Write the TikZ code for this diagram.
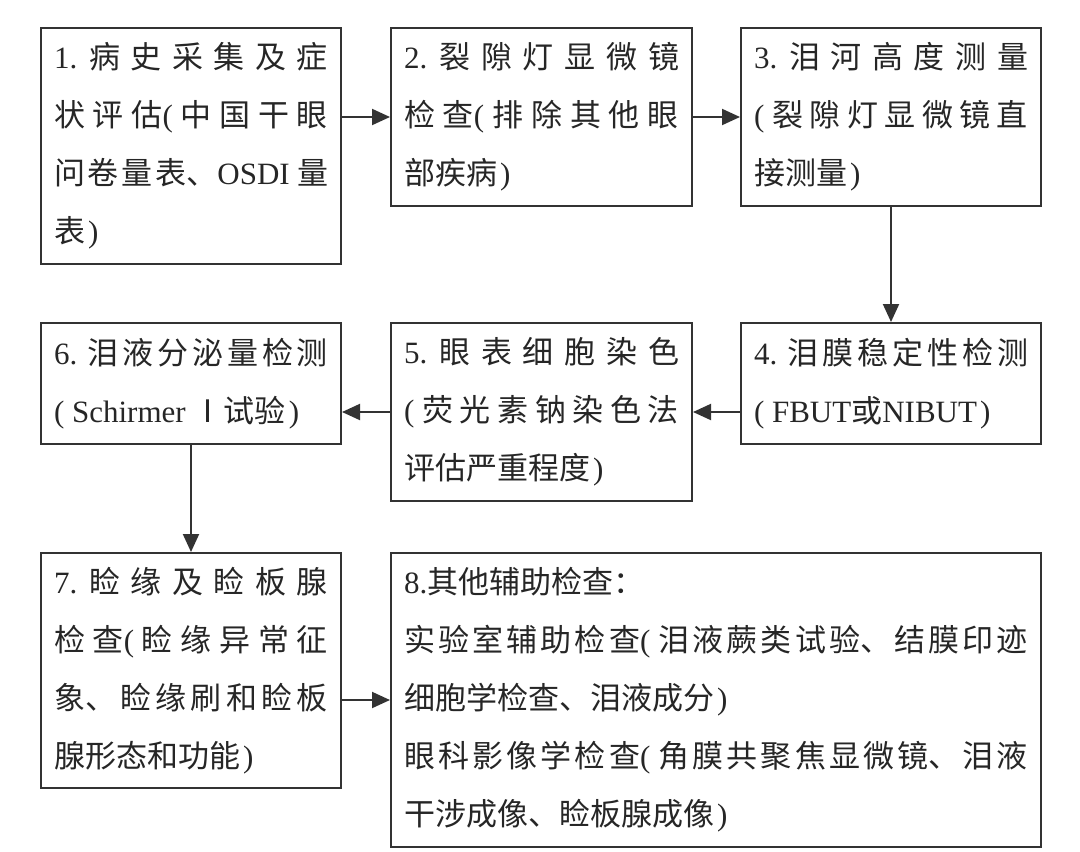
\documentclass[tikz,border=0pt]{standalone}
\usepackage{fontspec}
\setmainfont{Noto Sans CJK SC}
\newfontfamily\enfont{Liberation Serif}
\newcommand{\enf}[1]{{\enfont #1}}
\newcommand{\lp}{{\enfont(}\kern0.25em}
\newcommand{\rp}{\kern0.1em{\enfont)}}
\usepackage{tikz}
\tikzset{>=latex}
\usetikzlibrary{arrows.meta}
\XeTeXlinebreaklocale "zh"
\XeTeXlinebreakskip=0pt plus 20pt
\tolerance=10000
\hbadness=10000

\tikzset{
  stepbox/.style={draw=black!80, line width=1pt, anchor=north west, align=justify,
    text width=#1, inner xsep=6.5pt, inner ysep=0pt, text=black!85,
    font=\fontsize{15.5pt}{29pt}\selectfont},
  flow/.style={-{Triangle[length=9pt,width=8pt]}, line width=1pt, black!80}
}

\begin{document}
\begin{tikzpicture}[x=0.5pt, y=-0.5pt]
 \useasboundingbox (0,0) rectangle (1080,851);

 % Top row
 \node[stepbox=137pt, minimum height=118pt] (hist) at (40,27)
   {\enf{1.} 病史采集及症\linebreak 状评估\lp 中国干眼\linebreak 问卷量表、\enf{OSDI} 量\linebreak 表\rp};
 \node[stepbox=137.5pt, minimum height=89pt] (slit) at (390,27)
   {\enf{2.} 裂隙灯显微镜\linebreak 检查\lp 排除其他眼\linebreak 部疾病\rp};
 \node[stepbox=137pt, minimum height=89pt] (meniscus) at (740,27)
   {\enf{3.} 泪河高度测量\linebreak \lp 裂隙灯显微镜直\linebreak 接测量\rp};

 % Middle row
 \node[stepbox=137pt, minimum height=60.5pt] (tbut) at (740,322)
   {\enf{4.} 泪膜稳定性检测\linebreak \lp\enf{FBUT}或\enf{NIBUT}\rp};
 \node[stepbox=137.5pt, minimum height=89pt] (stain) at (390,322)
   {\enf{5.} 眼表细胞染色\linebreak \lp 荧光素钠染色法\linebreak 评估严重程度\rp};
 \node[stepbox=137pt, minimum height=60.5pt] (schirmer) at (40,322)
   {\enf{6.} 泪液分泌量检测\linebreak \mbox{\lp\enf{Schirmer} Ⅰ试验\rp}};

 % Bottom row
 \node[stepbox=137pt, minimum height=117.5pt] (lid) at (40,552)
   {\enf{7.} 睑缘及睑板腺\linebreak 检查\lp 睑缘异常征\linebreak 象、睑缘刷和睑板\linebreak 腺形态和功能\rp};
 \node[stepbox=312pt, minimum height=147pt] (aux) at (390,552)
   {\enf{8.}其他辅助检查：\newline
    实验室辅助检查\lp 泪液蕨类试验、结膜印迹\linebreak 细胞学检查、泪液成分\rp\newline
    眼科影像学检查\lp 角膜共聚焦显微镜、泪液\linebreak 干涉成像、睑板腺成像\rp};

 % Arrows
 \draw[flow] (hist.east |- slit.west) -- (slit.west);
 \draw[flow] (slit.east) -- (meniscus.west);
 \draw[flow] (meniscus.south) -- (tbut.north);
 \draw[flow] (tbut.west |- stain.east) -- (stain.east);
 \draw[flow] (stain.west) -- (schirmer.east |- stain.west);
 \draw[flow] (schirmer.south) -- (lid.north);
 \draw[flow] (lid.east |- aux.west) -- (aux.west);

\end{tikzpicture}
\end{document}
